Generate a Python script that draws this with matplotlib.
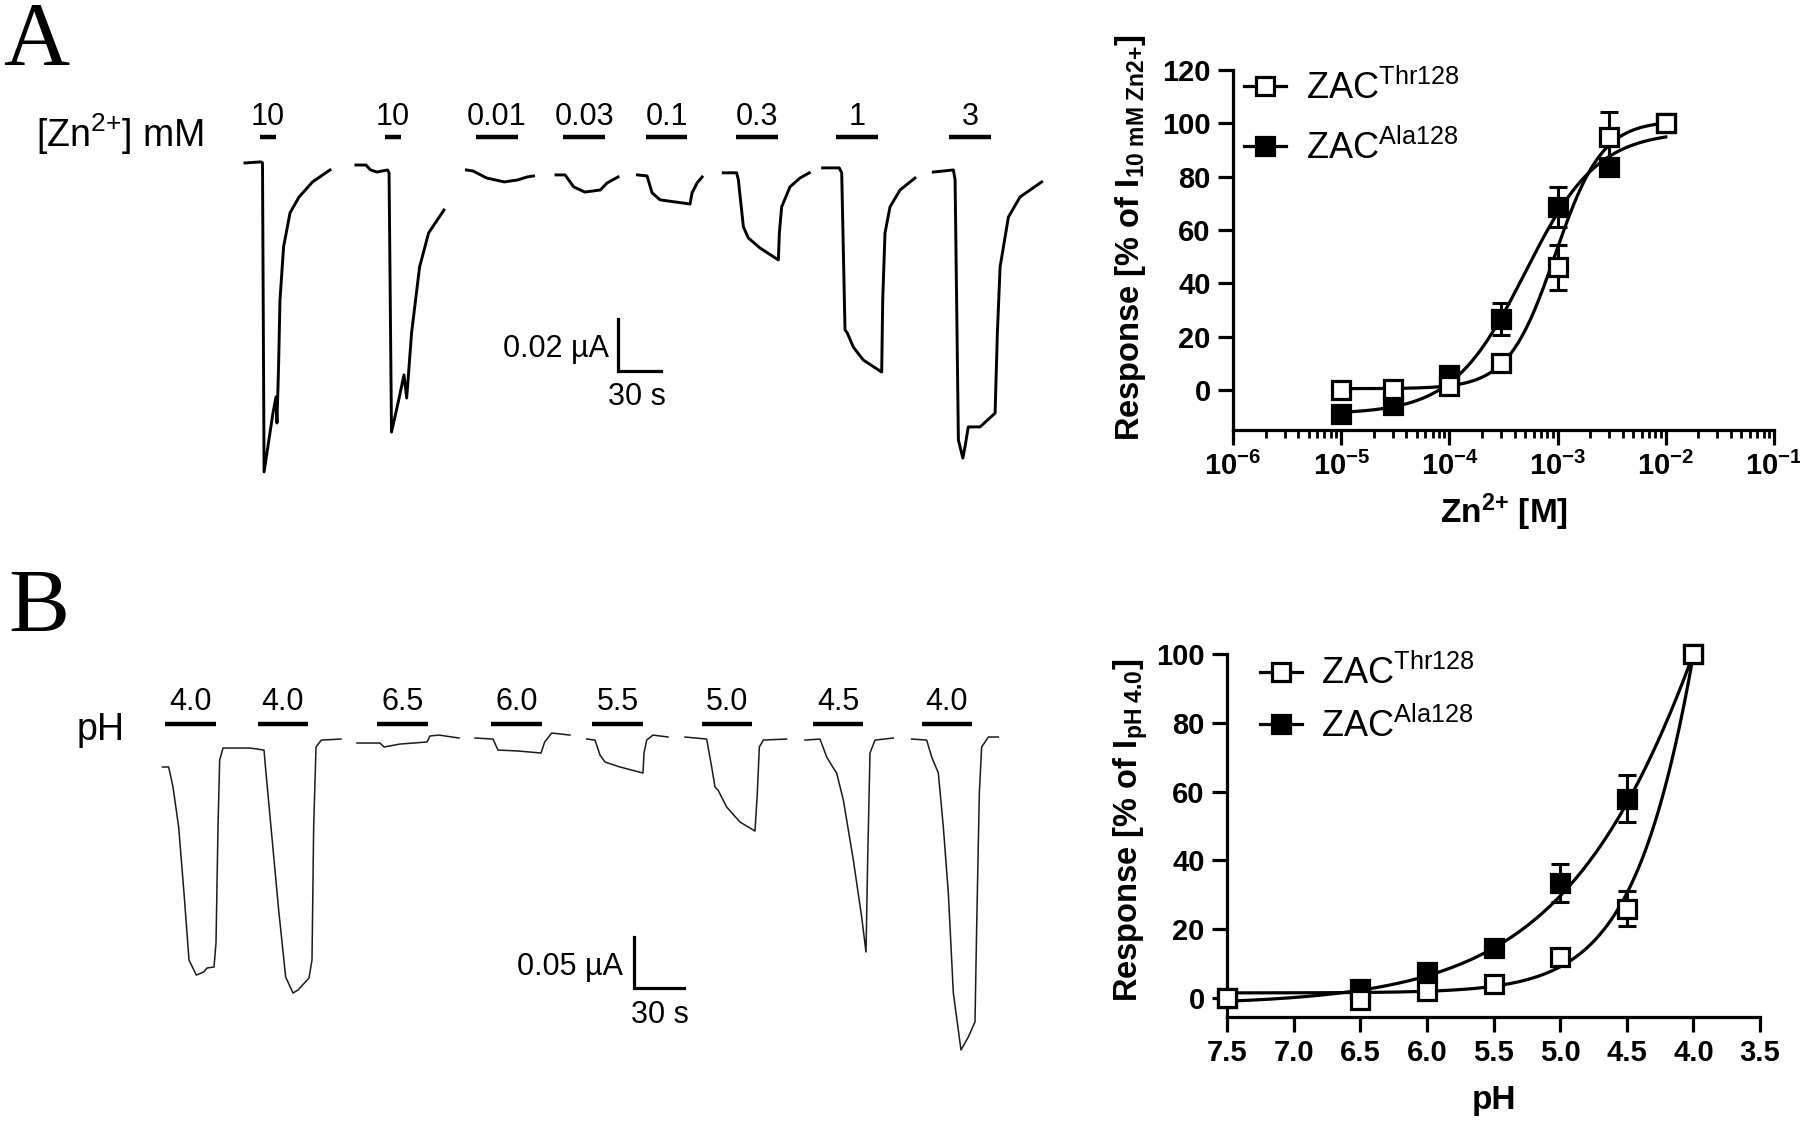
import matplotlib.pyplot as plt
import numpy as np
from matplotlib.lines import Line2D
from matplotlib.ticker import FixedLocator, FuncFormatter, LogLocator, NullFormatter

plt.rcParams['font.family'] = ['Liberation Sans', 'DejaVu Sans']
plt.rcParams['mathtext.fontset'] = 'custom'
plt.rcParams['mathtext.rm'] = 'Liberation Sans'
plt.rcParams['mathtext.bf'] = 'Liberation Sans:bold'
plt.rcParams['mathtext.it'] = 'Liberation Sans:italic'

# ---------------- concentration-response data ----------------
zn_conc = [1e-5, 3e-5, 1e-4, 3e-4, 1e-3, 3e-3, 1e-2]
thr_zn = [0, 0.5, 1.5, 10, 46, 95, 100]
thr_zn_err = [0, 0, 0, 1, 8.5, 9.4, 0]
ala_zn = [-9, -5.5, 5.5, 26.5, 68.5, 83.5, 100]
ala_zn_err = [1, 1, 1, 6, 7.5, 3, 0]
# Hill fits: bottom, top, EC50 (M), slope
thr_zn_fit = [0.5, 101, 9.5e-4, 2.0]
ala_zn_fit = [-9, 97, 5e-4, 1.3]

ph_vals = [7.5, 6.5, 6.0, 5.5, 5.0, 4.5, 4.0]
thr_ph = [0, -0.5, 2, 4, 12, 26, 100]
thr_ph_err = [0, 0, 0, 0.5, 1.5, 5, 0]
ala_ph = [0, 2.5, 7.5, 14.5, 33.5, 58, 100]
ala_ph_err = [0, 0, 1, 1, 5.5, 6.8, 0]
# Hill fits on [H+]: bottom, top, pEC50, slope
thr_ph_fit = [1.5, 501.5, 3.49, 1.2]
ala_ph_fit = [-2, 398, 3.224, 0.6]

# ---------------- current traces (time s, current nA) ----------------
zn_t1 = [31.4, 42.6, 43.6, 44.7, 46.7, 50.9, 53.0, 53.7, 54.8, 55.8, 58.3, 62.8, 69.1, 78.5, 90.7]
zn_i1 = [0, 0.4, 0, -118.8, -111.5, -96.2, -90.0, -100.0, -78.5, -52.7, -32.3, -19.2, -13.1, -7.3, -2.7]
zn_t2 = [108.8, 115.8, 119.0, 123.5, 130.8, 131.9, 133.6, 138.6, 142.3, 144.2, 147.6, 153.2, 159.5, 170.2]
zn_i2 = [-0.8, -0.8, -2.7, -3.5, -2.7, -3.8, -103.5, -91.2, -81.5, -90.4, -65.4, -40.0, -26.9, -18.1]
zn_t3 = [185.9, 190.5, 200.0, 212.4, 221.9, 228.1, 232.7]
zn_i3 = [-2.7, -3.1, -5.8, -7.3, -6.5, -5.4, -5.0]
zn_t4 = [248.4, 254.7, 260.7, 268.5, 279.3, 284.0, 291.6]
zn_i4 = [-4.6, -4.6, -9.2, -11.2, -10.4, -7.7, -5.4]
zn_t5 = [305.2, 311.9, 315.4, 321.0, 341.9, 343.3, 346.8, 350.3]
zn_i5 = [-4.6, -5.0, -11.5, -14.2, -15.8, -11.5, -7.7, -5.4]
zn_t6 = [365.1, 374.4, 375.6, 379.1, 382.5, 390.7, 403.5, 404.2, 405.8, 411.6, 418.6, 425.1]
zn_i6 = [-3.8, -3.8, -6.5, -24.6, -28.8, -32.7, -37.3, -26.9, -16.9, -9.2, -5.8, -3.8]
zn_t7 = [434.4, 446.0, 447.7, 450.0, 451.6, 455.8, 462.8, 475.6, 476.3, 477.9, 481.4, 488.4, 498.8]
zn_i7 = [-1.9, -1.9, -3.8, -64.2, -65.4, -70.8, -75.8, -80.4, -52.7, -26.9, -16.9, -10.4, -5.8]
zn_t8 = [511.6, 525.6, 526.8, 529.1, 532.2, 533.7, 536.0, 544.2, 554.7, 556.3, 558.2, 564.0, 572.1, 587.2]
zn_i8 = [-3.5, -2.7, -6.5, -106.5, -113.5, -109.2, -101.5, -101.5, -96.2, -65.4, -40.0, -20.8, -13.1, -7.3]

zn_bar_on = [41.9, 129.1, 192.6, 253.3, 311.2, 374.0, 443.7, 522.6]
zn_bar_off = [53.0, 140.2, 221.9, 282.6, 340.1, 403.1, 473.0, 551.7]
zn_labels = ['10', '10', '0.01', '0.03', '0.1', '0.3', '1', '3']

ph_t1 = [13.5, 17.2, 19.8, 23.2, 26.4, 29.4, 33.8, 38.2, 40.2, 44.4, 45.6, 46.8, 47.8, 49.8,
         66.0, 74.4, 75.6, 78.6, 83.2, 87.4, 91.8, 94.8, 101.4, 103.2, 104.2, 105.6, 108.8, 120.6]
ph_i1 = [-28.4, -28.4, -48.0, -87.3, -152.0, -217.6, -232.4, -229.4, -225.5, -224.5, -201.0, -87.3, -21.6, -9.8,
         -9.8, -11.8, -34.3, -87.3, -168.6, -234.3, -250.0, -247.1, -235.3, -217.6, -87.3, -8.8, -2.0, -1.0]
ph_t3 = [130.2, 144.0, 146.4, 156.0, 172.2, 174.0, 179.4, 191.4]
ph_i3 = [-4.9, -4.9, -8.8, -5.9, -3.9, 2.0, 2.9, 0]
ph_t4 = [201.0, 211.8, 214.8, 226.8, 240.6, 242.8, 247.0, 258.0]
ph_i4 = [0, -1.0, -11.8, -12.7, -14.7, -3.9, 4.9, 2.9]
ph_t5 = [268.0, 273.0, 276.0, 279.0, 288.0, 301.8, 302.4, 304.0, 307.8, 316.8]
ph_i5 = [-1.0, -2.0, -16.7, -23.5, -28.4, -34.3, -14.7, -2.0, 2.9, 1.0]
ph_t6 = [327.0, 340.0, 343.0, 345.0, 346.8, 352.0, 360.0, 369.0, 370.4, 371.6, 374.0, 388.0]
ph_i6 = [1.0, -1.0, -28.4, -48.0, -51.0, -67.6, -82.4, -91.2, -53.9, -8.8, -2.0, -1.0]
ph_t7 = [399.0, 408.0, 412.0, 416.0, 418.0, 422.0, 428.0, 433.0, 435.6, 436.6, 438.0, 441.0, 452.0]
ph_i7 = [-2.0, -1.0, -18.6, -29.4, -34.3, -60.8, -119.6, -175.5, -209.8, -119.6, -14.7, -2.0, 0]
ph_t8 = [463.0, 472.0, 475.0, 479.0, 482.0, 485.0, 488.0, 492.6, 497.0, 501.0, 502.0, 503.6, 505.0, 509.0, 515.0]
ph_i8 = [-1.0, -2.0, -18.6, -34.3, -87.3, -152.0, -250.0, -305.9, -293.1, -278.4, -185.3, -53.9, -8.8, 1.0, 1.0]

ph_bar_on = [15.0, 70.8, 142.2, 210.6, 271.2, 337.2, 403.8, 469.2]
ph_bar_off = [45.6, 100.8, 172.5, 241.2, 301.8, 367.2, 433.8, 499.2]
ph_labels = ['4.0', '4.0', '6.5', '6.0', '5.5', '5.0', '4.5', '4.0']

W, H = 1800, 1123
fig = plt.figure(figsize=(W / 100, H / 100), dpi=100)


def rect(x0, y0, x1, y1):
    # pixel box (top-left origin) -> figure fraction
    return [x0 / W, 1 - y1 / H, (x1 - x0) / W, (y1 - y0) / H]


def draw_traces(ax, traces, bars_on, bars_off, labels, bar_y, lab_y, lw, color):
    for t, i in traces:
        ax.plot(t, i, color=color, lw=lw, solid_joinstyle='round')
    for on, off, lab in zip(bars_on, bars_off, labels):
        ax.plot([on, off], [bar_y, bar_y], color='k', lw=3.2, solid_capstyle='butt')
        ax.text((on + off) / 2, lab_y, lab, ha='center', va='baseline', fontsize=22)
    ax.axis('off')


def scale_bar(ax, t0, i0, dt, di, ylab, xlab, ylab_pos, xlab_pos):
    ax.plot([t0, t0, t0 + dt], [i0 + di, i0, i0], color='k', lw=2.3, solid_joinstyle='miter')
    ax.text(ylab_pos[0], ylab_pos[1], ylab, ha='right', va='baseline', fontsize=22)
    ax.text(xlab_pos[0], xlab_pos[1], xlab, ha='center', va='baseline', fontsize=22)


# ---------------- panel A traces ----------------
axA = fig.add_axes(rect(200, 100, 1100, 500))
axA.set_xlim(0, 627.9)
axA.set_ylim(-129.6, 24.2)
zn_traces = [(zn_t1, zn_i1), (zn_t2, zn_i2), (zn_t3, zn_i3), (zn_t4, zn_i4),
             (zn_t5, zn_i5), (zn_t6, zn_i6), (zn_t7, zn_i7), (zn_t8, zn_i8)]
draw_traces(axA, zn_traces, zn_bar_on, zn_bar_off, zn_labels, 10.0, 14.6, 2.1, 'k')
axA.text(-114.4, 6.2, '[Zn$^{2{+}}$] mM', ha='left', va='baseline', fontsize=27)
scale_bar(axA, 291.6, -80.0, 30, 20, '0.02 µA', '30 s', (285.4, -74.6), (304.9, -93.1))

# ---------------- panel B traces ----------------
axB = fig.add_axes(rect(140, 680, 1040, 1080))
axB.set_xlim(0, 540)
axB.set_ylim(-335.3, 56.9)
ph_traces = [(ph_t1, ph_i1), (ph_t3, ph_i3), (ph_t4, ph_i4), (ph_t5, ph_i5),
             (ph_t6, ph_i6), (ph_t7, ph_i7), (ph_t8, ph_i8)]
draw_traces(axB, ph_traces, ph_bar_on, ph_bar_off, ph_labels, 13.7, 27.5, 1.1, '#1a1a1a')
axB.text(-37.8, -2.0, 'pH', ha='left', va='baseline', fontsize=27)
scale_bar(axB, 296.4, -245.1, 30, 50, '0.05 µA', '30 s', (289.8, -232.4), (312.0, -279.4))

# panel letters
fig.text(3 / W, 1 - 65 / H, 'A', fontsize=66, family='Liberation Serif', va='baseline')
fig.text(8 / W, 1 - 632 / H, 'B', fontsize=66, family='Liberation Serif', va='baseline')


# ---------------- dose-response plots ----------------
def style_axes(ax):
    for s in ['top', 'right']:
        ax.spines[s].set_visible(False)
    for s in ['left', 'bottom']:
        ax.spines[s].set_linewidth(2.3)
    ax.tick_params(which='major', length=11, width=2.3, labelsize=21, pad=5)
    ax.tick_params(which='minor', length=6, width=2.0)
    for lab in ax.get_yticklabels() + ax.get_xticklabels():
        lab.set_fontweight('bold')


def plot_series(ax, x, y, err, fill, z):
    xe = [a for a, e in zip(x, err) if e > 0]
    ye = [b for b, e in zip(y, err) if e > 0]
    ee = [e for e in err if e > 0]
    ax.errorbar(xe, ye, yerr=ee, fmt='none', ecolor='k', elinewidth=2.2,
                capsize=6.5, capthick=2.2, zorder=z)
    ax.plot(x, y, ls='none', marker='s', ms=12.5, mew=2.3, mec='k', mfc=fill,
            zorder=z + 0.5, clip_on=False)


def legend(ax, anchor, spacing):
    h_thr = Line2D([], [], color='k', lw=2.3, marker='s', ms=12.5, mew=2.3, mfc='white', mec='k')
    h_ala = Line2D([], [], color='k', lw=2.3, marker='s', ms=12.5, mew=2.3, mfc='k', mec='k')
    ax.legend([h_thr, h_ala], ['ZAC$^{\\mathrm{Thr128}}$', 'ZAC$^{\\mathrm{Ala128}}$'],
              loc='upper left', bbox_to_anchor=anchor, frameon=False, fontsize=26,
              handlelength=1.15, handletextpad=0.55, labelspacing=spacing,
              borderaxespad=0, borderpad=0)


# Zn concentration-response
axZ = fig.add_axes(rect(1233, 70, 1774, 430))
xs = np.logspace(-5, -2, 300)
for p in [thr_zn_fit, ala_zn_fit]:
    bottom, top, ec50, n = p
    axZ.plot(xs, bottom + (top - bottom) / (1 + (ec50 / xs) ** n), color='k', lw=2.3,
             zorder=2, clip_on=False)
plot_series(axZ, zn_conc, ala_zn, ala_zn_err, 'k', 3)
plot_series(axZ, zn_conc, thr_zn, thr_zn_err, 'white', 5)
axZ.set_xscale('log')
axZ.set_xlim(1e-6, 1e-1)
axZ.set_ylim(-15, 120)
axZ.yaxis.set_major_locator(FixedLocator([0, 20, 40, 60, 80, 100, 120]))
axZ.xaxis.set_major_locator(LogLocator(base=10, numticks=10))
axZ.xaxis.set_minor_locator(LogLocator(base=10, subs=np.arange(2, 10), numticks=20))
axZ.xaxis.set_minor_formatter(NullFormatter())
axZ.xaxis.set_major_formatter(FuncFormatter(lambda v, pos: r'$\mathbf{10^{%d}}$' % round(np.log10(v))))
style_axes(axZ)
legend(axZ, (0.021, 1.0), 0.62)
fig.text(1131 / W, 1 - 238 / H, 'Response [% of I$_{\\mathbf{10\\ mM\\ Zn2{+}}}$]', rotation=90,
         ha='center', va='center', fontsize=23.5, fontweight='bold')
fig.text(1504 / W, 1 - 512 / H, 'Zn$^{\\mathbf{2{+}}}$ [M]', ha='center', va='center',
         fontsize=24, fontweight='bold')

# pH concentration-response
axP = fig.add_axes(rect(1227, 654, 1760, 1017))
ps = np.linspace(7.5, 4.0, 300)
for p in [thr_ph_fit, ala_ph_fit]:
    bottom, top, pec50, n = p
    axP.plot(ps, bottom + (top - bottom) / (1 + 10 ** (n * (ps - pec50))), color='k', lw=2.3,
             zorder=2, clip_on=False)
plot_series(axP, ph_vals, ala_ph, ala_ph_err, 'k', 3)
plot_series(axP, ph_vals, thr_ph, thr_ph_err, 'white', 5)
axP.set_xlim(7.5, 3.5)
axP.set_ylim(-5.5, 100)
axP.yaxis.set_major_locator(FixedLocator([0, 20, 40, 60, 80, 100]))
axP.xaxis.set_major_locator(FixedLocator([7.5, 7.0, 6.5, 6.0, 5.5, 5.0, 4.5, 4.0, 3.5]))
axP.xaxis.set_major_formatter(FuncFormatter(lambda v, pos: '%.1f' % v))
style_axes(axP)
legend(axP, (0.062, 0.997), 0.42)
fig.text(1131 / W, 1 - 830 / H, 'Response [% of I$_{\\mathbf{pH\\ 4.0}}$]', rotation=90,
         ha='center', va='center', fontsize=23.5, fontweight='bold')
fig.text(1494 / W, 1 - 1100 / H, 'pH', ha='center', va='center', fontsize=24, fontweight='bold')

fig.savefig('out.png', dpi=100)
